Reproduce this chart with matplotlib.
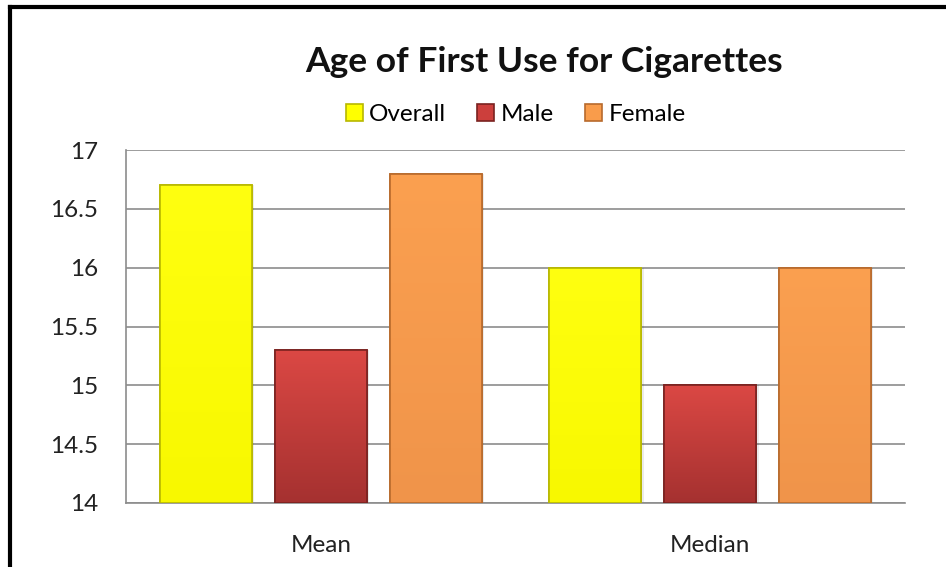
import numpy as np
import matplotlib.pyplot as plt
from matplotlib.lines import Line2D
from matplotlib.colors import LinearSegmentedColormap

plt.rcParams['font.family'] = ['Lato', 'DejaVu Sans']

categories = ['Mean', 'Median']
series = ['Overall', 'Male', 'Female']
overall = [16.7, 16.0]
male = [15.3, 15.0]
female = [16.8, 16.0]
colors = ['#ffff00', '#cc3f3c', '#f99c4b']
tops = ['#ffff10', '#db4844', '#fba050']
bottoms = ['#f8f800', '#a53130', '#f0944a']
edges = ['#b8b800', '#7a2220', '#b86a2c']

fig = plt.figure(figsize=(9.46, 5.67), dpi=100)
ax = fig.add_axes([0.1332, 0.1129, 0.8235, 0.6225])

x = np.arange(len(categories))
w = 0.236
offsets = [-0.295, 0, 0.295]
grad = np.linspace(1, 0, 256).reshape(-1, 1)
for vals, off, c, t, b, ec, name in zip([overall, male, female], offsets, colors,
                                         tops, bottoms, edges, series):
    bars = ax.bar(x + off, np.array(vals) - 14, w, bottom=14, color=c, edgecolor=ec,
                  linewidth=1.2, label=name, zorder=3)
    cmap = LinearSegmentedColormap.from_list(name, [b, t])
    for bar in bars:
        x0, y0 = bar.get_x(), bar.get_y()
        im = ax.imshow(grad, cmap=cmap, aspect='auto', zorder=3.5,
                       extent=[x0, x0 + bar.get_width(), y0, y0 + bar.get_height()])
        im.set_clip_path(bar)
        # soft shadow to the right
        ax.bar(x0 + 0.006, bar.get_height(), bar.get_width(), bottom=y0, align='edge',
               color='#000000', alpha=0.08, zorder=2.5, linewidth=0)
    for bar in bars:
        ax.add_patch(plt.Rectangle((bar.get_x(), bar.get_y()), bar.get_width(),
                                   bar.get_height(), fill=False, edgecolor=ec,
                                   linewidth=1.2, zorder=4))

ax.set_xlim(-0.5, 1.5)
ax.set_ylim(14, 17)
ax.set_yticks(np.arange(14, 17.01, 0.5))
ax.set_yticklabels(['14', '14.5', '15', '15.5', '16', '16.5', '17'])
ax.set_xticks(x)
ax.set_xticklabels(categories)
ax.tick_params(axis='both', length=0, labelsize=17.5, colors='#222222')
ax.tick_params(axis='y', pad=20)
ax.tick_params(axis='x', pad=23)
ax.yaxis.grid(True, color='#8c8c8c', linewidth=1.2, zorder=0)
for s in ['top', 'right']:
    ax.spines[s].set_visible(False)
for s in ['left', 'bottom']:
    ax.spines[s].set_color('#8c8c8c')
    ax.spines[s].set_linewidth(1.2)

fig.text(0.575, 0.89, 'Age of First Use for Cigarettes', ha='center', va='center',
         fontsize=25.5, fontweight='bold', color='#111111')
fig.legend(loc='center', bbox_to_anchor=(0.545, 0.798), ncol=3, frameon=False,
           fontsize=17.5, handlelength=0.7, handleheight=0.7, handletextpad=0.25,
           columnspacing=1.3)

fig.add_artist(Line2D([0.011, 0.011], [0, 0.988], color='black', linewidth=3,
                      transform=fig.transFigure))
fig.add_artist(Line2D([0.011, 1], [0.988, 0.988], color='black', linewidth=3,
                      transform=fig.transFigure))

fig.savefig('out.png', dpi=100)
